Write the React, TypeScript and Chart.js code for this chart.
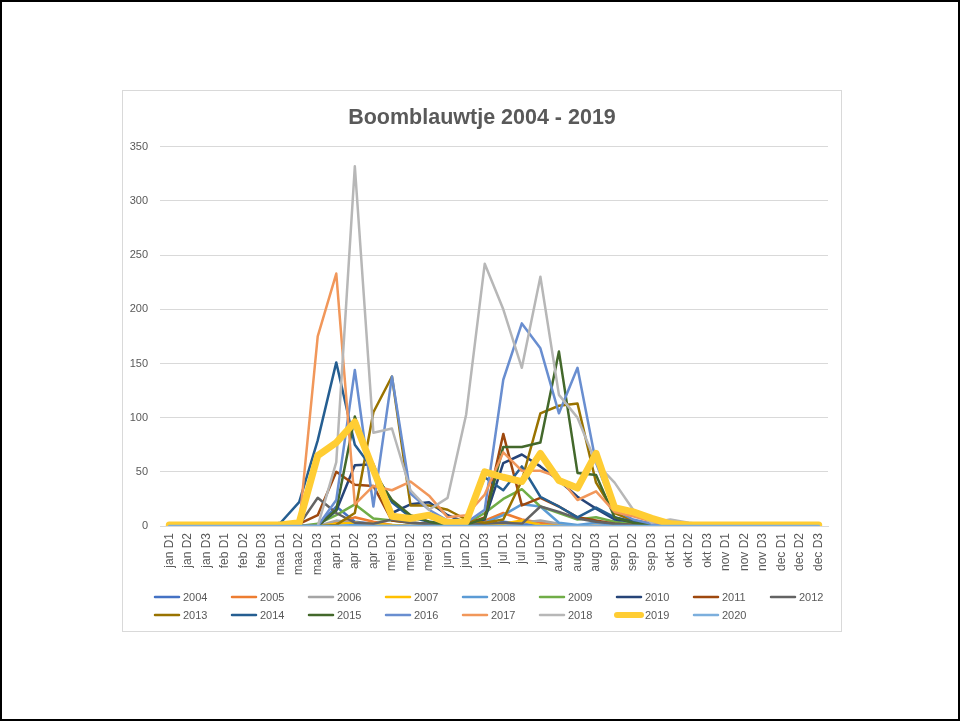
import React, { useEffect, useRef } from "react";
import { Chart, registerables } from "chart.js";

Chart.register(...registerables);

const FONT = "'Liberation Sans', Arial, sans-serif";
const TEXT = "#595959";

const categories = [
  "jan D1", "jan D2", "jan D3", "feb D1", "feb D2", "feb D3",
  "maa D1", "maa D2", "maa D3", "apr D1", "apr D2", "apr D3",
  "mei D1", "mei D2", "mei D3", "jun D1", "jun D2", "jun D3",
  "jul D1", "jul D2", "jul D3", "aug D1", "aug D2", "aug D3",
  "sep D1", "sep D2", "sep D3", "okt D1", "okt D2", "okt D3",
  "nov D1", "nov D2", "nov D3", "dec D1", "dec D2", "dec D3",
];

const years = ["2004", "2005", "2006", "2007", "2008", "2009", "2010", "2011", "2012",
  "2013", "2014", "2015", "2016", "2017", "2018", "2019", "2020"];

const colors = ["#4472C4", "#ED7D31", "#A5A5A5", "#FFC000", "#5B9BD5", "#70AD47", "#264478",
  "#9E480E", "#636363", "#997300", "#255E91", "#43682B", "#698ED0", "#F1975A", "#B7B7B7",
  "#FFCD33", "#7CAFDD"];

const y2004 = [0,0,0,0,0,0,0,0,0,18,4,2,0,0,0,0,0,0,4,2,0,0,0,0,0,0,0,0,0,0,0,0,0,0,0,0];
const y2005 = [0,0,0,0,0,0,0,0,0,3,8,4,1,0,0,0,0,5,12,6,3,1,0,0,0,0,0,0,0,0,0,0,0,0,0,0];
const y2006 = [0,0,0,0,0,0,0,0,0,5,3,1,0,0,0,0,0,0,0,3,5,2,0,0,0,0,0,0,0,0,0,0,0,0,0,0];
const y2007 = [0,0,0,0,0,0,0,0,0,2,3,2,1,0,0,0,0,1,2,5,1,0,0,0,0,0,0,0,0,0,0,0,0,0,0,0];
const y2008 = [0,0,0,0,0,0,0,0,0,0,1,0,0,0,0,0,0,3,10,20,18,3,1,3,1,0,0,0,0,0,0,0,0,0,0,0];
const y2009 = [0,0,0,0,0,0,0,0,2,10,20,7,5,3,2,1,2,12,25,34,18,12,6,8,4,2,0,0,0,0,0,0,0,0,0,0];
const y2010 = [0,0,0,0,0,0,0,0,0,14,56,57,12,20,22,10,3,6,58,66,55,42,27,16,6,4,2,0,0,0,0,0,0,0,0,0];
const y2011 = [0,0,0,0,0,0,0,2,10,50,38,37,5,3,2,1,2,8,85,19,26,18,8,5,2,1,0,0,0,0,0,0,0,0,0,0];
const y2012 = [0,0,0,0,0,0,0,1,26,12,3,2,6,3,2,1,1,2,3,2,18,13,7,4,2,1,0,0,0,0,0,0,0,0,0,0];
const y2013 = [0,0,0,0,0,0,0,0,0,1,12,105,138,19,19,15,6,3,6,42,104,111,113,40,12,5,2,0,0,0,0,0,0,0,0,0];
const y2014 = [0,0,0,0,0,0,3,22,79,151,75,52,22,8,4,2,3,45,33,55,27,18,8,17,8,4,2,0,0,0,0,0,0,0,0,0];
const y2015 = [0,0,0,0,0,0,0,0,0,15,101,50,24,10,4,1,1,7,73,73,77,161,49,47,8,3,1,0,0,0,0,0,0,0,0,0];
const y2016 = [0,0,0,0,0,0,0,0,0,24,144,18,138,30,15,5,3,15,135,187,164,104,146,58,15,6,2,0,0,0,0,0,0,0,0,0];
const y2017 = [0,0,0,0,0,0,0,0,175,233,20,37,33,41,28,8,10,29,68,51,51,45,24,32,13,9,4,1,0,0,0,0,0,0,0,0];
const y2018 = [0,0,0,0,0,0,0,0,0,59,332,86,90,33,15,26,103,242,200,146,230,121,100,58,40,15,3,6,3,1,0,0,0,0,0,0];
const y2019 = [1,1,1,1,1,1,1,3,65,77,96,52,9,7,10,3,4,50,45,41,67,42,35,67,17,13,7,2,1,1,1,1,1,1,1,1];
const y2020 = [0,0,0,0,0,0,0,0,0,0,0,0,0,0,0,0,0,0,0,0,0,0,0,0,0,0,0,0,0,0,0,0,0,0,0,0];

const seriesValues = [y2004, y2005, y2006, y2007, y2008, y2009, y2010, y2011, y2012,
  y2013, y2014, y2015, y2016, y2017, y2018, y2019, y2020];

const rowLegend = {
  id: "rowLegend",
  afterDraw(chart: any) {
    const ctx = chart.ctx;
    const area = chart.chartArea;
    const ds = chart.data.datasets;
    ctx.save();
    ctx.font = `11px ${FONT}`;
    ctx.textBaseline = "middle";
    ctx.textAlign = "left";
    ds.forEach((d: any, i: number) => {
      const row = Math.floor(i / 9);
      const col = i % 9;
      const x = area.left - 5 + col * 77;
      const y = area.bottom + 71 + row * 18;
      ctx.strokeStyle = d.borderColor;
      ctx.lineWidth = d.borderWidth > 4 ? 6 : 2.5;
      ctx.lineCap = "round";
      ctx.beginPath();
      ctx.moveTo(x, y);
      ctx.lineTo(x + 24, y);
      ctx.stroke();
      ctx.fillStyle = TEXT;
      ctx.fillText(d.label, x + 28, y + 0.5);
    });
    ctx.restore();
  },
};

export default function App() {
  const ref = useRef<HTMLCanvasElement | null>(null);

  useEffect(() => {
    if (!ref.current) return;
    const n = years.length;
    const chart = new Chart(ref.current, {
      type: "line",
      data: {
        labels: categories,
        datasets: years.map((yr, i) => ({
          label: yr,
          data: seriesValues[i],
          borderColor: colors[i],
          backgroundColor: colors[i],
          borderWidth: yr === "2019" ? 7 : 2.5,
          pointRadius: 0,
          pointHoverRadius: 0,
          tension: 0,
          fill: false,
          borderJoinStyle: "round",
          borderCapStyle: "round",
          order: n - i,
        })),
      },
      options: {
        responsive: false,
        animation: false,
        events: [],
        layout: { padding: { left: 0, right: 0, top: 0, bottom: 45 } },
        plugins: {
          legend: { display: false },
          tooltip: { enabled: false },
          title: {
            display: true,
            text: "Boomblauwtje 2004 - 2019",
            color: TEXT,
            font: { family: FONT, size: 21.5, weight: "bold" },
            padding: { top: 14, bottom: 16 },
          },
        },
        scales: {
          x: {
            offset: true,
            grid: { display: false, drawTicks: false },
            border: { color: "#D9D9D9" },
            ticks: {
              color: TEXT,
              font: { family: FONT, size: 12 },
              minRotation: 90,
              maxRotation: 90,
              autoSkip: false,
              padding: 7,
            },
            afterFit: (s: any) => { s.height = 60; },
          },
          y: {
            min: 0,
            max: 350,
            ticks: { stepSize: 50, color: TEXT, font: { family: FONT, size: 11 }, padding: 12 },
            grid: { color: "#D9D9D9", drawTicks: false },
            border: { display: false },
            afterFit: (s: any) => { s.width = 37; },
          },
          yRight: {
            position: "right",
            min: 0,
            max: 350,
            ticks: { display: false },
            grid: { display: false, drawTicks: false },
            border: { display: false },
            afterFit: (s: any) => { s.width = 13; },
          },
        },
      },
      plugins: [rowLegend],
    });
    return () => chart.destroy();
  }, []);

  return (
    <div style={{ position: "fixed", left: 0, top: 0, width: 961, height: 722, background: "#fff" }}>
      <div style={{ position: "absolute", left: 0, top: 0, width: 960, height: 721, border: "2px solid #000", boxSizing: "border-box" }} />
      <div style={{ position: "absolute", left: 122, top: 90, width: 720, height: 542, border: "1px solid #D9D9D9", boxSizing: "border-box", background: "#fff" }}>
        <canvas ref={ref} width={718} height={540} style={{ display: "block", width: 718, height: 540 }} />
      </div>
    </div>
  );
}
